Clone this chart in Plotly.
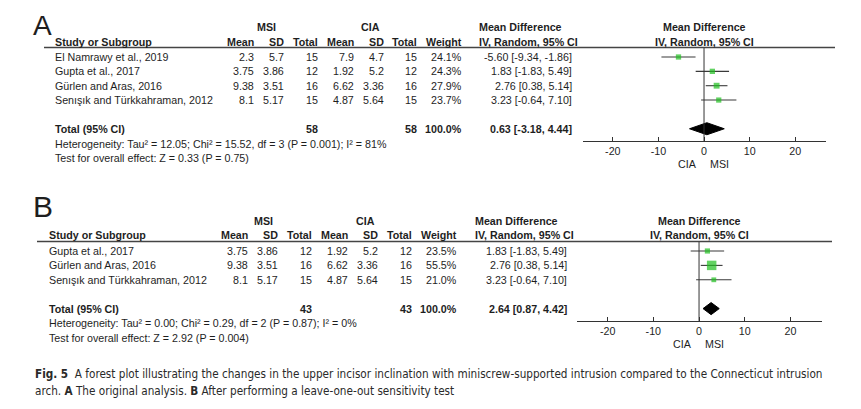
import plotly.graph_objects as go

# ---------------- data: panel A ----------------
studies_a = ["El Namrawy et al., 2019", "Gupta et al., 2017", "Gürlen and Aras, 2016",
             "Senışık and Türkkahraman, 2012"]
msi_mean_a = [2.3, 3.75, 9.38, 8.1]
msi_sd_a = [5.7, 3.86, 3.51, 5.17]
msi_n_a = [15, 12, 16, 15]
cia_mean_a = [7.9, 1.92, 6.62, 4.87]
cia_sd_a = [4.7, 5.2, 3.36, 5.64]
cia_n_a = [15, 12, 16, 15]
weight_a = [24.1, 24.3, 27.9, 23.7]
md_a = [-5.60, 1.83, 2.76, 3.23]
lo_a = [-9.34, -1.83, 0.38, -0.64]
hi_a = [-1.86, 5.49, 5.14, 7.10]
total_a = dict(msi_n=58, cia_n=58, weight=100.0, md=0.63, lo=-3.18, hi=4.44)
het_a = "Heterogeneity: Tau² = 12.05; Chi² = 15.52, df = 3 (P = 0.001); I² = 81%"
test_a = "Test for overall effect: Z = 0.33 (P = 0.75)"

# ---------------- data: panel B ----------------
studies_b = ["Gupta et al., 2017", "Gürlen and Aras, 2016", "Senışık and Türkkahraman, 2012"]
msi_mean_b = [3.75, 9.38, 8.1]
msi_sd_b = [3.86, 3.51, 5.17]
msi_n_b = [12, 16, 15]
cia_mean_b = [1.92, 6.62, 4.87]
cia_sd_b = [5.2, 3.36, 5.64]
cia_n_b = [12, 16, 15]
weight_b = [23.5, 55.5, 21.0]
md_b = [1.83, 2.76, 3.23]
lo_b = [-1.83, 0.38, -0.64]
hi_b = [5.49, 5.14, 7.10]
total_b = dict(msi_n=43, cia_n=43, weight=100.0, md=2.64, lo=0.87, hi=4.42)
het_b = "Heterogeneity: Tau² = 0.00; Chi² = 0.29, df = 2 (P = 0.87); I² = 0%"
test_b = "Test for overall effect: Z = 2.92 (P = 0.004)"

tick_vals = [-20, -10, 0, 10, 20]
caption_1 = ("<b>Fig. 5</b>  A forest plot illustrating the changes in the upper incisor inclination "
             "with miniscrew-supported intrusion compared to the Connecticut intrusion")
caption_2 = "arch. <b>A</b> The original analysis. <b>B</b> After performing a leave-one-out sensitivity test"

# ---------------- styling / page geometry ----------------
W, H = 861, 409          # browser window
OX, OY = 8, 8            # default page body margin
FW, FH = W - OX, H - OY  # figure size that fits the window
FONT = "Arial, Liberation Sans, Helvetica, sans-serif"
CAP_FONT = "Liberation Sans Narrow, DejaVu Sans Condensed, Arial Narrow, sans-serif"
TXT = "#1e1e1e"
LINE = "#333333"
GREEN = "#1fbf1f"
FS = 10.7


def pxx(p):
    return (p - OX) / FW


def pxy(p):
    return 1 - (p - OY) / FH


fig = go.Figure()
annotations = []
shapes = []
layout_axes = {}


def fmt(v):
    return f"{v:g}"


def add_panel(letter, studies, msi_mean, msi_sd, msi_n, cia_mean, cia_sd, cia_n,
              weight, md, lo, hi, total, het, test, g, ax_i):
    xn = "x" if ax_i == 1 else f"x{ax_i}"
    yn = "y" if ax_i == 1 else f"y{ax_i}"
    xl = "xaxis" if ax_i == 1 else f"xaxis{ax_i}"
    yl = "yaxis" if ax_i == 1 else f"yaxis{ax_i}"
    p0, unit = g["row0"], g["unit"]
    n = len(studies)
    rows = list(range(n))
    t = n + 1  # total row index

    def px_to_idx(p):
        return (p - p0) / unit

    layout_axes[xl] = dict(
        domain=[pxx(g["ax_l"]), pxx(g["ax_r"])], range=g["xrange"],
        anchor="free", position=pxy(p0 + (t + 0.86) * unit),
        showline=True, linecolor=LINE, linewidth=1, ticks="inside", ticklen=4,
        tickcolor=LINE, tickwidth=1, tickvals=tick_vals, ticktext=[str(v) for v in tick_vals],
        showgrid=False, zeroline=False, tickfont=dict(family=FONT, size=FS, color=TXT),
        fixedrange=True,
    )
    layout_axes[yl] = dict(
        domain=[0, 1], range=[px_to_idx(H), px_to_idx(OY)], visible=False,
        anchor=xn, fixedrange=True,
    )

    sizes = [0.57 * w ** 0.7 for w in weight]
    fig.add_trace(go.Scatter(
        x=md, y=rows, xaxis=xn, yaxis=yn, mode="markers",
        marker=dict(symbol="square", size=sizes, color=GREEN, line=dict(width=0)),
        error_x=dict(type="data", symmetric=False,
                     array=[h - m for h, m in zip(hi, md)],
                     arrayminus=[m - l for m, l in zip(md, lo)],
                     width=0, color="#3a3a3a", thickness=1.1),
        showlegend=False, cliponaxis=False, hoverinfo="skip"))

    dh = 0.42
    fig.add_trace(go.Scatter(
        x=[total["lo"], total["md"], total["hi"], total["md"], total["lo"]],
        y=[t, t - dh, t, t + dh, t], xaxis=xn, yaxis=yn, mode="lines",
        fill="toself", fillcolor="black", line=dict(color="black", width=1),
        showlegend=False, cliponaxis=False, hoverinfo="skip"))

    line_idx = -0.66
    shapes.append(dict(type="line", xref=xn, yref=yn, x0=0, x1=0, y0=line_idx,
                       y1=t + 0.86, line=dict(color=LINE, width=1)))
    shapes.append(dict(type="line", xref="paper", yref=yn, x0=pxx(g["rule_l"]),
                       x1=pxx(g["rule_r"]), y0=line_idx, y1=line_idx,
                       line=dict(color="#444444", width=1.5)))

    def ann(x, y, text, anchor="right", bold=False, xref="paper", size=FS, font=FONT):
        annotations.append(dict(
            x=x if xref != "paper" else pxx(x), y=y, xref=xref, yref=yn,
            text=f"<b>{text}</b>" if bold else text, showarrow=False,
            xanchor=anchor, yanchor="middle",
            font=dict(family=font, size=size, color=TXT)))

    c = g["cols"]
    annotations.append(dict(x=pxx(g["letter_x"]), y=pxy(g["letter_y"]), xref="paper",
                            yref="paper", text=letter, showarrow=False, xanchor="left",
                            yanchor="top", font=dict(family=FONT, size=g["letter_fs"],
                                                     color=TXT)))
    h1, h2 = -2.08, -1.08
    ann(c["msi_c"], h1, "MSI", "center", True)
    ann(c["cia_c"], h1, "CIA", "center", True)
    ann(c["study"], h2, "Study or Subgroup", "left", True)
    for key, lab in [("m1", "Mean"), ("s1", "SD"), ("n1", "Total"), ("m2", "Mean"),
                     ("s2", "SD"), ("n2", "Total"), ("w", "Weight")]:
        ann(c[key], h2, lab, "right", True)
    ann(c["md_l"], h1, "Mean Difference", "left", True)
    ann(c["md_l"], h2, "IV, Random, 95% CI", "left", True)
    ann(0.2, h1, "Mean Difference", "center", True, xref=xn)
    ann(0.2, h2, "IV, Random, 95% CI", "center", True, xref=xn)

    for i in rows:
        ann(c["study"], i, studies[i], "left")
        ann(c["m1"], i, fmt(msi_mean[i]))
        ann(c["s1"], i, fmt(msi_sd[i]))
        ann(c["n1"], i, str(msi_n[i]))
        ann(c["m2"], i, fmt(cia_mean[i]))
        ann(c["s2"], i, fmt(cia_sd[i]))
        ann(c["n2"], i, str(cia_n[i]))
        ann(c["w"], i, f"{weight[i]:.1f}%")
        ann(c["md_r"], i, f"{md[i]:.2f} [{lo[i]:.2f}, {hi[i]:.2f}]")

    ann(c["study"], t, "Total (95% CI)", "left", True)
    ann(c["n1"], t, str(total["msi_n"]), "right", True)
    ann(c["n2"], t, str(total["cia_n"]), "right", True)
    ann(c["w"], t, f"{total['weight']:.1f}%", "right", True)
    ann(c["md_r"], t, f"{total['md']:.2f} [{total['lo']:.2f}, {total['hi']:.2f}]", "right", True)
    ann(c["study"], t + 1.03, het, "left")
    ann(c["study"], t + 2.05, test, "left")

    annotations.append(dict(x=0, y=t + 2.46, xref=xn, yref=yn, text="CIA", showarrow=False,
                            xanchor="right", yanchor="middle", xshift=-5,
                            font=dict(family=FONT, size=FS, color=TXT)))
    annotations.append(dict(x=0, y=t + 2.46, xref=xn, yref=yn, text="MSI", showarrow=False,
                            xanchor="left", yanchor="middle", xshift=4,
                            font=dict(family=FONT, size=FS, color=TXT)))


geom_a = dict(row0=57, unit=14.35, ax_l=583, ax_r=826, xrange=[-26.54, 26.75],
              rule_l=44, rule_r=835, letter_x=31, letter_y=8, letter_fs=28,
              cols=dict(study=53, m1=256, s1=286, n1=320, m2=356, s2=386, n2=419, w=464,
                        md_r=574, md_l=477, msi_c=266, cia_c=370))
geom_b = dict(row0=251, unit=14.4, ax_l=577, ax_r=822, xrange=[-26.7, 26.9],
              rule_l=37, rule_r=832, letter_x=31, letter_y=188, letter_fs=30,
              cols=dict(study=47, m1=250, s1=280, n1=314, m2=350, s2=380, n2=414, w=459,
                        md_r=569, md_l=473, msi_c=264, cia_c=365))

add_panel("A", studies_a, msi_mean_a, msi_sd_a, msi_n_a, cia_mean_a, cia_sd_a, cia_n_a,
          weight_a, md_a, lo_a, hi_a, total_a, het_a, test_a, geom_a, 1)
add_panel("B", studies_b, msi_mean_b, msi_sd_b, msi_n_b, cia_mean_b, cia_sd_b, cia_n_b,
          weight_b, md_b, lo_b, hi_b, total_b, het_b, test_b, geom_b, 2)

for text, py in [(caption_1, 374), (caption_2, 391)]:
    annotations.append(dict(x=pxx(33), y=pxy(py), xref="paper", yref="paper", text=text,
                            showarrow=False, xanchor="left", yanchor="middle",
                            font=dict(family=CAP_FONT, size=11.65, color="#2a2a2a")))

fig.update_layout(
    width=FW, height=FH, margin=dict(l=0, r=0, t=0, b=0),
    paper_bgcolor="white", plot_bgcolor="rgba(0,0,0,0)",
    showlegend=False, annotations=annotations, shapes=shapes, **layout_axes)

fig.write_html("out.html")
